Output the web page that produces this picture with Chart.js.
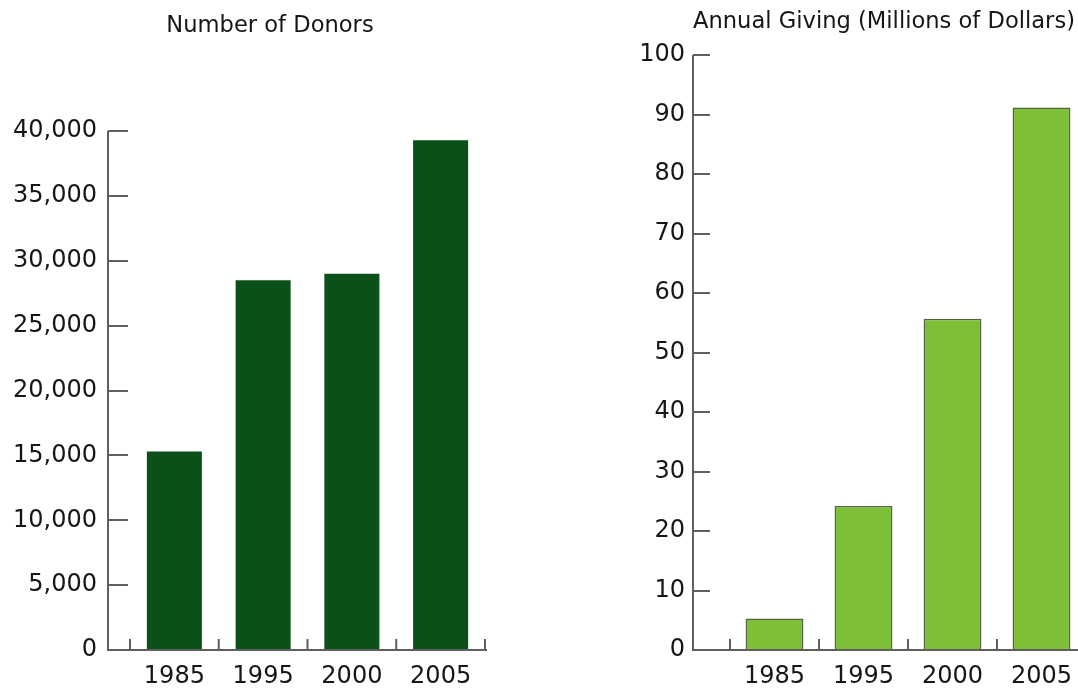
<!DOCTYPE html>
<html>
<head>
<meta charset="utf-8">
<title>Donors and Annual Giving</title>
<script src="https://cdn.jsdelivr.net/npm/chart.js@4.4.1/dist/chart.umd.min.js"></script>
<style>
  html, body { margin: 0; padding: 0; background: #fff; overflow: hidden; }
  body { width: 1078px; height: 690px; position: relative; }
  canvas { position: absolute; top: 0; }
  #donorsChart { left: 0; }
  #givingChart { left: 614px; }
</style>
</head>
<body>
<canvas id="donorsChart" width="540" height="690"></canvas>
<canvas id="givingChart" width="540" height="690"></canvas>

<script>
// categories and values
const years = ['1985', '1995', '2000', '2005'];
const donors = [15300, 28500, 29000, 39300];
const giving = [5.3, 24.2, 55.7, 91.2];

// tick labels
const donorTicks = [0, 5000, 10000, 15000, 20000, 25000, 30000, 35000, 40000];
const givingTicks = [0, 10, 20, 30, 40, 50, 60, 70, 80, 90, 100];

const FONT = 'DejaVu Sans';
const INK = '#161616';
const AXIS = '#5f5f5f';

// Draws the bracket style axes: y line set a little left of the bars,
// ticks pointing inward, short upward marks between categories.
function bracketAxes(gap, yTickLen) {
    return {
        id: 'bracketAxes',
        afterDatasetsDraw(chart) {
            const { ctx, chartArea, scales } = chart;
            const x = scales.x, y = scales.y;
            const axisX = chartArea.left - gap;
            const bottom = y.getPixelForValue(0);
            const top = y.getPixelForValue(y.max);

            ctx.save();
            ctx.strokeStyle = AXIS;
            ctx.lineWidth = 2;
            ctx.lineCap = 'butt';
            ctx.beginPath();
            ctx.moveTo(axisX, top);
            ctx.lineTo(axisX, bottom);
            ctx.lineTo(chartArea.right + 2, bottom);

            y.ticks.forEach(t => {
                const py = Math.round(y.getPixelForValue(t.value));
                ctx.moveTo(axisX, py);
                ctx.lineTo(axisX + yTickLen, py);
            });

            const half = x.width / (2 * years.length);
            for (let i = 0; i <= years.length; i++) {
                const px = i < years.length ? x.getPixelForValue(i) - half : x.getPixelForValue(i - 1) + half;
                ctx.moveTo(px, bottom);
                ctx.lineTo(px, bottom - 11);
            }
            ctx.stroke();
            ctx.restore();
        }
    };
}

// Title box spans the whole canvas so the heading is centred on it,
// not on the padded layout area.
const centreTitle = {
    id: 'centreTitle',
    afterLayout(chart) {
        const t = chart.titleBlock;
        t.left = 0;
        t.right = chart.width;
        t.width = chart.width;
    }
};

function buildChart(id, opts) {
    return new Chart(document.getElementById(id), {
        type: 'bar',
        data: {
            labels: years,
            datasets: [{
                data: opts.values,
                backgroundColor: opts.fill,
                borderColor: opts.border,
                borderWidth: opts.borderWidth,
                borderSkipped: 'bottom',
                barPercentage: opts.barPct,
                categoryPercentage: 1
            }]
        },
        options: {
            responsive: false,
            animation: false,
            layout: { padding: { left: 0, right: opts.padRight, top: 0, bottom: 0 } },
            plugins: {
                legend: { display: false },
                tooltip: { enabled: false },
                title: {
                    display: true,
                    text: opts.title,
                    color: INK,
                    font: { family: FONT, size: 22.6, weight: 'normal' },
                    padding: { top: opts.titleTop, bottom: opts.titleBottom }
                }
            },
            scales: {
                x: {
                    grid: { display: false, drawTicks: false },
                    border: { display: false },
                    ticks: {
                        color: INK,
                        font: { family: FONT, size: 24 },
                        padding: 12,
                        maxRotation: 0
                    },
                    afterFit(scale) { scale.height = 40; }
                },
                y: {
                    min: 0,
                    max: opts.ticks[opts.ticks.length - 1],
                    grid: { display: false, drawTicks: false },
                    border: { display: false },
                    afterBuildTicks(scale) {
                        scale.ticks = opts.ticks.map(v => ({ value: v }));
                    },
                    ticks: {
                        color: INK,
                        font: { family: FONT, size: 24 },
                        padding: opts.labelPad,
                        callback: v => v.toLocaleString('en-US')
                    },
                    // keep the plot height fixed; the label padding only shifts text sideways
                    afterFit(scale) {
                        scale.width = opts.yWidth;
                        scale.paddingTop = 0;
                        scale.paddingBottom = 0;
                    }
                }
            }
        },
        plugins: [bracketAxes(opts.gap, opts.yTickLen), centreTitle]
    });
}

buildChart('donorsChart', {
    title: 'Number of Donors',
    values: donors,
    ticks: donorTicks,
    fill: '#0b4f19',
    border: '#0b4f19',
    borderWidth: 0,
    barPct: 0.62,
    yWidth: 130,
    padRight: 55,
    titleTop: 13,
    titleBottom: 91,
    labelPad: 33,
    gap: 22,
    yTickLen: 20
});

buildChart('givingChart', {
    title: 'Annual Giving (Millions of Dollars)',
    values: giving,
    ticks: givingTicks,
    fill: '#7dbf36',
    border: '#56633f',
    borderWidth: 1.5,
    barPct: 0.65,
    yWidth: 116,
    padRight: 68,
    titleTop: 9,
    titleBottom: 19,
    labelPad: 45,
    gap: 37,
    yTickLen: 17
});
</script>
</body>
</html>
